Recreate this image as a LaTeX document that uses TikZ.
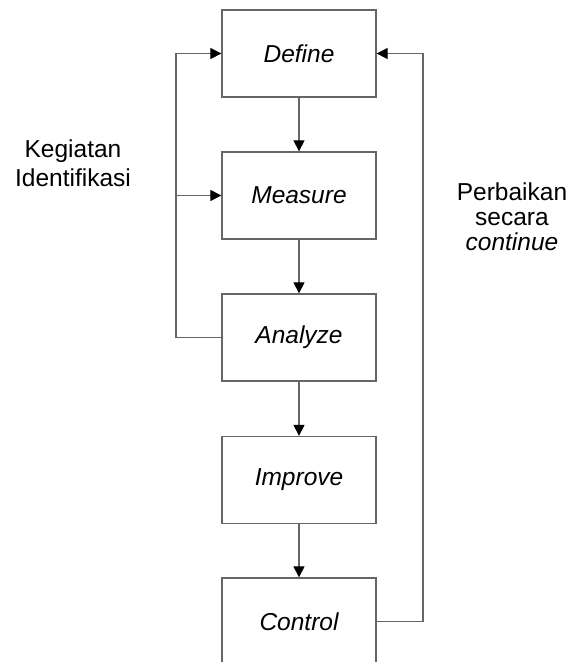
\documentclass[tikz,border=0pt]{standalone}
\usepackage{fontspec}
\setmainfont{Liberation Sans}
\usepackage{tikz}
\usetikzlibrary{arrows.meta}

\tikzset{
	stepbox/.style={draw=black!60,line width=1.3pt,minimum width=154pt,minimum height=87pt,
		inner sep=0pt,font=\fontsize{24.5}{28}\selectfont\itshape},
	flow/.style={draw=black!60,line width=1.2pt,-{Triangle[length=11pt,width=11pt,color=black]}},
	note/.style={align=center,inner sep=0pt}
}

\begin{document}
\begin{tikzpicture}[x=1pt,y=-1pt]
		\useasboundingbox (0,0) rectangle (576,662);
%		\draw[help lines] (0,0) grid[step=50] (576,662);
		\path (299,53.5) coordinate (define);
		\path (299,195.5) coordinate (measure);
		\path (299,337.5) coordinate (analyze);
		\path (299,480) coordinate (improve);
		\path (299,621.5) coordinate (control);
		\path (176,53.5) coordinate (left_top);
		\path (176,195.5) coordinate (left_mid);
		\path (423,53.5) coordinate (right_top);
		\path (73,163) coordinate (ident);
		\path (512,217) coordinate (improvement);

		\node[stepbox] (definebox) at (define) {Define};
		\node[stepbox] (measurebox) at (measure) {Measure};
		\node[stepbox] (analyzebox) at (analyze) {Analyze};
		\node[stepbox] (improvebox) at (improve) {Improve};
		\node[stepbox] (controlbox) at (control) {Control};

		\node[note,font=\fontsize{24.5}{29}\selectfont] (identtext) at (ident) {Kegiatan\\Identifikasi};
		\node[note,font=\fontsize{24.5}{25}\selectfont] (improvementtext) at (improvement) {Perbaikan\\secara\\\textit{continue}};

		\draw[flow] (definebox) -- (measurebox);
		\draw[flow] (measurebox) -- (analyzebox);
		\draw[flow] (analyzebox) -- (improvebox);
		\draw[flow] (improvebox) -- (controlbox);

		\draw[flow] (analyzebox.west) -| (left_top) -- (definebox.west);
		\draw[flow] (left_mid) -- (measurebox.west);
		\draw[flow] (controlbox.east) -| (right_top) -- (definebox.east);
	\end{tikzpicture}
\end{document}
